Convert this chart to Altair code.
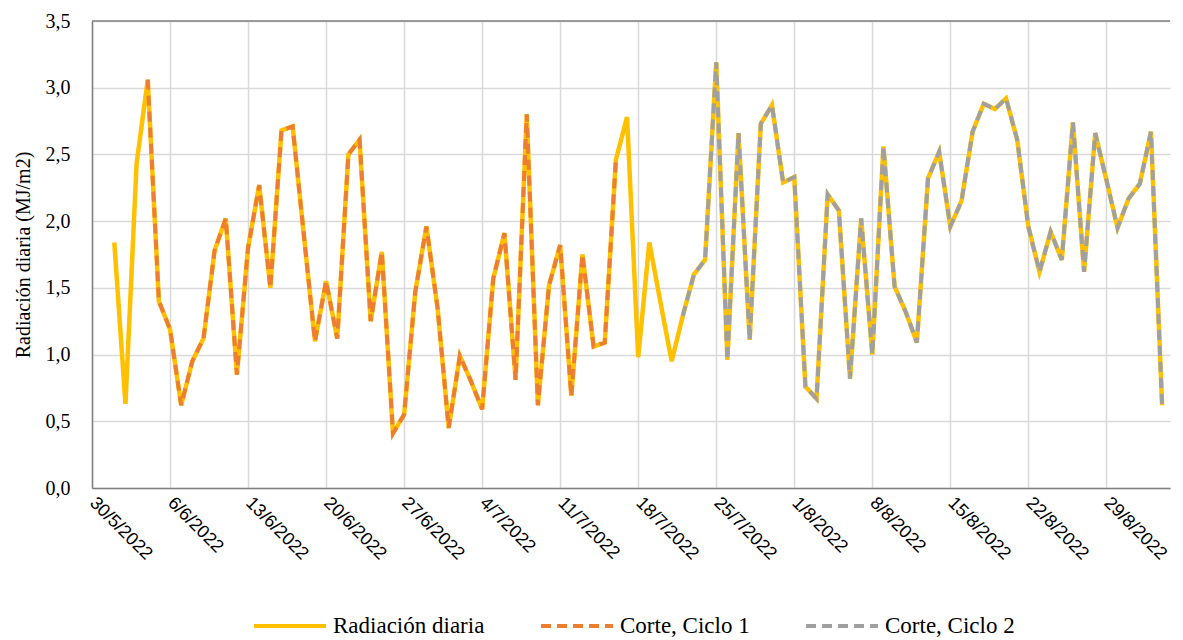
import altair as alt
import pandas as pd

# ---- data ----
fecha_inicio = "2022-06-01"
radiacion = [
    # junio
    1.84, 0.63, 2.43, 3.06, 1.40, 1.19, 0.62, 0.95, 1.12, 1.78,
    2.02, 0.85, 1.80, 2.27, 1.50, 2.68, 2.71, 1.90, 1.10, 1.55,
    1.12, 2.50, 2.61, 1.25, 1.77, 0.41, 0.55, 1.47, 1.96, 1.35,
    # julio
    0.45, 0.99, 0.80, 0.59, 1.57, 1.91, 0.81, 2.80, 0.62, 1.52,
    1.82, 0.69, 1.75, 1.06, 1.09, 2.46, 2.78, 0.98, 1.84, 1.39,
    0.95, 1.29, 1.60, 1.71, 3.19, 0.96, 2.66, 1.11, 2.73, 2.87,
    2.29,
    # agosto
    2.33, 0.76, 0.67, 2.20, 2.08, 0.82, 2.02, 1.00, 2.56, 1.51,
    1.32, 1.09, 2.32, 2.52, 1.96, 2.15, 2.67, 2.88, 2.84, 2.92,
    2.61, 1.96, 1.62, 1.92, 1.71, 2.74, 1.62, 2.66, 2.31, 1.95,
    2.17,
    # septiembre
    2.28, 2.67, 0.62,
]
ciclo1 = ("2022-06-04", "2022-07-16")
ciclo2 = ("2022-07-22", "2022-09-03")
series = ["Radiación diaria", "Corte, Ciclo 1", "Corte, Ciclo 2"]
colores = ["#FFC000", "#ED7D31", "#A0A0A0"]
guiones = [[1, 0], [10, 6], [10, 6]]
y_ticks = [0, 0.5, 1.0, 1.5, 2.0, 2.5, 3.0, 3.5]
x_ticks = [(5, 30), (6, 6), (6, 13), (6, 20), (6, 27), (7, 4), (7, 11),
           (7, 18), (7, 25), (8, 1), (8, 8), (8, 15), (8, 22), (8, 29)]

SERIF = "Times New Roman, Liberation Serif, serif"

# ---- build table ----
fechas = pd.date_range(fecha_inicio, periods=len(radiacion), freq="D")
base = pd.DataFrame({"fecha": fechas, "valor": radiacion})
d0 = base.assign(serie=series[0])
d1 = base[(base.fecha >= ciclo1[0]) & (base.fecha <= ciclo1[1])].assign(serie=series[1])
d2 = base[(base.fecha >= ciclo2[0]) & (base.fecha <= ciclo2[1])].assign(serie=series[2])
data = pd.concat([d0, d1, d2], ignore_index=True)
data["fecha"] = data["fecha"].dt.strftime("%Y-%m-%dT00:00:00")

x_enc = alt.X(
    "fecha:T",
    scale=alt.Scale(domain=[alt.DateTime(year=2022, month=5, date=30),
                            alt.DateTime(year=2022, month=9, date=3, hours=17)]),
    axis=alt.Axis(
        values=[alt.DateTime(year=2022, month=m, date=d) for m, d in x_ticks],
        format="%-d/%-m/%Y", labelAngle=45, labelAlign="left", labelBaseline="middle",
        labelFont="Liberation Sans", labelFontSize=18, labelPadding=12,
        ticks=False, title=None, labelOverlap=False,
    ),
)
y_enc = alt.Y(
    "valor:Q",
    scale=alt.Scale(domain=[0, 3.5]),
    axis=alt.Axis(
        values=y_ticks,
        labelExpr="replace(format(datum.value, '.1f'), '.', ',')",
        labelFont=SERIF, labelFontSize=20, labelPadding=22,
        title="Radiación diaria (MJ/m2)", titleFont=SERIF,
        titleFontSize=20, titleFontWeight="normal", titlePadding=12,
        ticks=False,
    ),
)
leg = dict(
    title=None, orient="none", direction="horizontal", legendX=160, legendY=567,
    symbolType="stroke", symbolSize=5184, symbolStrokeWidth=4,
    labelFont=SERIF, labelFontSize=23, labelLimit=0,
    columnPadding=48, labelOffset=5,
)
color_enc = alt.Color("serie:N", scale=alt.Scale(domain=series, range=colores),
                      legend=alt.Legend(**leg))
dash_enc = alt.StrokeDash("serie:N", scale=alt.Scale(domain=series, range=guiones),
                          legend=alt.Legend(**leg))

layers = []
for name, w in zip(series, [4.5, 4, 4]):
    layers.append(
        alt.Chart(data)
        .transform_filter(alt.datum.serie == name)
        .mark_line(strokeWidth=w)
        .encode(x=x_enc, y=y_enc, color=color_enc, strokeDash=dash_enc)
    )

top = alt.Chart(pd.DataFrame({"valor": [3.5]})).mark_rule(
    color="#7f7f7f", strokeWidth=1.5
).encode(y=alt.Y("valor:Q"))

chart = (
    alt.layer(*layers, top)
    .properties(width=1078, height=467, padding={"left": 5, "top": 3, "right": 0, "bottom": 0})
    .configure_view(stroke=None)
    .configure_axis(
        domainColor="#7f7f7f", domainWidth=1.5,
        gridColor="#d9d9d9", gridWidth=1.5, labelColor="#000000", titleColor="#000000",
    )
    .configure_legend(labelColor="#000000", labelFont=SERIF, labelFontSize=23)
)

chart.save("out.html", embed_options={"renderer": "svg", "actions": False})
